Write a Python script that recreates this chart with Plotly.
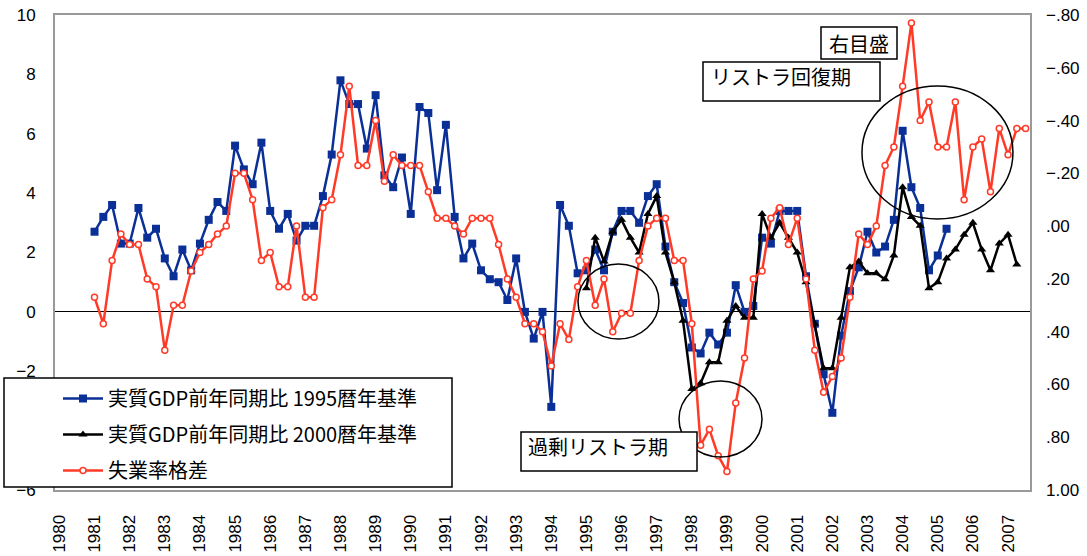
import plotly.graph_objects as go

# Quarterly category axis: 1980Q1 .. 2007Q3
years = list(range(1980, 2008))
quarters = [f"{y}Q{q}" for y in years for q in range(1, 5)][:111]
year_labels = [str(y) for y in years]

# Real GDP, year-on-year (%), 1995 base
gdp95_start = "1981Q1"
gdp95 = [2.7, 3.2, 3.6, 2.3, 2.3, 3.5, 2.5, 2.8,
         1.8, 1.2, 2.1, 1.4, 2.3, 3.1, 3.7, 3.4,
         5.6, 4.8, 4.3, 5.7, 3.4, 2.8, 3.3, 2.4,
         2.9, 2.9, 3.9, 5.3, 7.8, 7.0, 7.0, 5.5,
         7.3, 4.6, 4.2, 5.2, 3.3, 6.9, 6.7, 4.1,
         6.3, 3.2, 1.8, 2.3, 1.4, 1.1, 1.0, 0.4,
         1.8, 0.0, -0.9, 0.0, -3.2, 3.6, 2.9, 1.3,
         1.4, 2.1, 1.4, 2.7, 3.4, 3.4, 3.0, 3.9,
         4.3, 2.2, 1.0, 0.3, -1.2, -1.4, -0.7, -1.1,
         -0.7, 0.9, 0.0, 0.2, 2.5, 2.3, 3.4, 3.4,
         3.4, 1.2, -0.4, -2.1, -3.4, -0.8, 0.7, 1.5,
         2.7, 2.0, 2.2, 3.1, 6.1, 4.2, 3.5, 1.4,
         1.9, 2.8]

# Real GDP, year-on-year (%), 2000 base
gdp00_start = "1995Q1"
gdp00 = [0.8, 2.5, 1.7, 2.7, 3.1, 2.5, 2.0, 3.3,
         3.9, 2.0, 1.0, -0.3, -2.6, -2.4, -1.7, -1.7,
         -0.3, 0.2, -0.2, -0.2, 3.3, 2.5, 3.0, 2.5,
         2.0, 1.0, -0.4, -1.9, -1.9, -0.2, 1.5, 1.7,
         1.3, 1.3, 1.1, 1.9, 4.2, 3.2, 2.9, 0.8,
         1.0, 1.8, 2.1, 2.6, 3.0, 2.1, 1.4, 2.3,
         2.6, 1.6]

# Unemployment-rate gap (right axis, inverted)
gap_start = "1981Q1"
gap = [0.27, 0.37, 0.13, 0.03, 0.07, 0.07, 0.20, 0.23,
       0.47, 0.30, 0.30, 0.17, 0.10, 0.07, 0.03, 0.00,
       -0.20, -0.20, -0.10, 0.13, 0.10, 0.23, 0.23, 0.00,
       0.27, 0.27, -0.07, -0.10, -0.27, -0.53, -0.23, -0.23,
       -0.40, -0.17, -0.27, -0.23, -0.23, -0.23, -0.13, -0.03,
       -0.03, 0.00, 0.03, -0.03, -0.03, -0.03, 0.07, 0.20,
       0.27, 0.37, 0.37, 0.40, 0.53, 0.37, 0.43, 0.23,
       0.13, 0.30, 0.20, 0.40, 0.33, 0.33, 0.13, 0.00,
       -0.03, -0.03, 0.13, 0.13, 0.37, 0.83, 0.77, 0.87,
       0.93, 0.67, 0.50, 0.20, 0.17, -0.03, -0.07, 0.07,
       -0.03, 0.20, 0.47, 0.63, 0.57, 0.50, 0.27, 0.03,
       0.07, 0.00, -0.23, -0.30, -0.53, -0.77, -0.40, -0.47,
       -0.30, -0.30, -0.47, -0.10, -0.30, -0.33, -0.13, -0.37,
       -0.27, -0.37, -0.37]

left_ticks = [-6, -4, -2, 0, 2, 4, 6, 8, 10]
right_ticks = [-0.8, -0.6, -0.4, -0.2, 0.0, 0.2, 0.4, 0.6, 0.8, 1.0]
right_ticktext = ["\u2212.80", "\u2212.60", "\u2212.40", "\u2212.20", ".00",
                  ".20", ".40", ".60", ".80", "1.00"]


def xs(start, values):
    i0 = quarters.index(start)
    return list(range(i0, i0 + len(values)))


BLUE = "#0a2f96"
RED = "#ff3b28"
JP = "Noto Sans CJK JP"
NUM = "Liberation Sans, Arial, sans-serif"

W, H = 1087, 556
L, R, T, B = 55, 57, 15, 66
PW, PH = W - L - R, H - T - B


def px(x):
    return (x - L) / PW


def py(y):
    return (H - B - y) / PH


fig = go.Figure()

fig.add_trace(go.Scatter(
    x=xs(gdp95_start, gdp95), y=gdp95, name="実質GDP前年同期比 1995暦年基準",
    mode="lines+markers", legendgroup="a",
    line=dict(color=BLUE, width=2.5),
    marker=dict(symbol="square", size=8, color=BLUE)))

fig.add_trace(go.Scatter(
    x=xs(gdp00_start, gdp00), y=gdp00, name="実質GDP前年同期比 2000暦年基準",
    mode="lines+markers", legendgroup="b",
    line=dict(color="#000000", width=2.5),
    marker=dict(symbol="triangle-up", size=8, color="#000000")))

fig.add_trace(go.Scatter(
    x=xs(gap_start, gap), y=gap, name="失業率格差", yaxis="y2",
    mode="lines+markers", legendgroup="c",
    line=dict(color=RED, width=2.5),
    marker=dict(symbol="circle", size=6, color="white",
                line=dict(color=RED, width=1.5))))

shapes = []
# highlighted periods
for (x0, x1, y0, y1) in [(59.04, 68.26, -0.91, 1.61),
                         (70.54, 79.99, -4.89, -2.33),
                         (91.37, 108.56, 3.13, 7.61)]:
    shapes.append(dict(type="circle", xref="x", yref="y", x0=x0, x1=x1,
                       y0=y0, y1=y1, line=dict(color="black", width=1.5),
                       layer="above"))

# label boxes and legend frame
for (x0, y0, x1, y1) in [(821, 27, 897, 59), (703, 62, 880, 101),
                         (521, 432, 697, 471), (4, 378, 452, 487)]:
    shapes.append(dict(type="rect", xref="paper", yref="paper",
                       x0=px(x0), x1=px(x1), y0=py(y1), y1=py(y0),
                       line=dict(color="black", width=1.5),
                       fillcolor="white", layer="above"))

annotations = [
    dict(text="右目盛", x=px(859), y=py(43), xanchor="center", yanchor="middle"),
    dict(text="リストラ回復期", x=px(709), y=py(76), xanchor="left", yanchor="middle"),
    dict(text="過剰リストラ期", x=px(526), y=py(446), xanchor="left", yanchor="middle"),
]
for a in annotations:
    a.update(xref="paper", yref="paper", showarrow=False,
             font=dict(family=JP, size=20, color="black"))

fig.update_layout(
    width=W, height=H,
    margin=dict(l=L, r=R, t=T, b=B, pad=0, autoexpand=False),
    paper_bgcolor="white", plot_bgcolor="white",
    font=dict(family=NUM, size=17, color="black"),
    showlegend=True,
    legend=dict(x=px(58), y=py(379), xanchor="left", yanchor="top",
                bgcolor="rgba(0,0,0,0)", borderwidth=0,
                font=dict(family=JP, size=20, color="black"),
                tracegroupgap=7, traceorder="grouped", itemwidth=40),
    xaxis=dict(range=[-0.5, len(quarters) - 0.5],
               tickmode="array", tickvals=list(range(0, len(quarters), 4)),
               ticktext=year_labels, tickangle=-90, automargin=False,
               showgrid=False, zeroline=False,
               showline=True, linecolor="#999999", linewidth=2, mirror=True,
               ticks="", ticklabelstandoff=16,
               tickfont=dict(family=NUM, size=17)),
    yaxis=dict(range=[-6, 10], tickmode="array", tickvals=left_ticks,
               automargin=False,
               showgrid=False, zeroline=True, zerolinecolor="black",
               zerolinewidth=1, showline=True, linecolor="#999999",
               linewidth=2, mirror=True, ticks="", ticklabelstandoff=14,
               tickfont=dict(family=NUM, size=17)),
    yaxis2=dict(range=[1.0, -0.8], overlaying="y", side="right",
                automargin=False,
                tickmode="array", tickvals=right_ticks, ticktext=right_ticktext,
                showgrid=False, zeroline=False, showline=False,
                ticks="", ticklabelstandoff=15,
                tickfont=dict(family=NUM, size=17)),
    shapes=shapes,
    annotations=annotations,
)

fig.write_html("out.html")
